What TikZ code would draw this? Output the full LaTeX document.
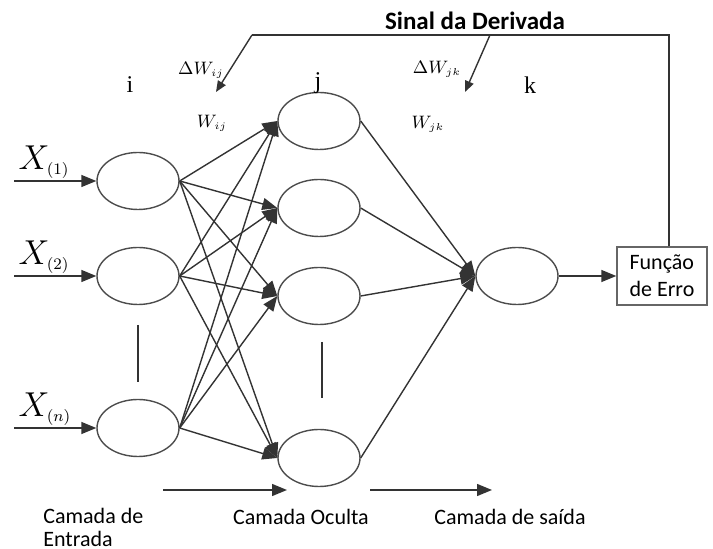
\documentclass[tikz,border=0pt]{standalone}
\usepackage{fontspec}
\setmainfont{Liberation Serif}
\newfontfamily\calibri{Carlito}
\usetikzlibrary{shapes.geometric,arrows.meta}

\begin{document}
\begin{tikzpicture}[x=0.5pt, y=-0.5pt, line width=0.7pt, draw=black!80,
        neuron/.style={ellipse, draw=black!70, minimum width=41pt, minimum height=28.5pt, inner sep=0pt},
        peso/.style={-{Triangle[length=7.5pt,width=6pt]}},
        sinal/.style={-{Triangle[length=5.5pt,width=4.5pt]}},
        rotulo/.style={font=\calibri\fontsize{11}{11.5}\selectfont},
        indice/.style={font=\fontsize{12}{14}\selectfont},
        caixa/.style={draw=black!60, font=\calibri\fontsize{11}{13.5}\selectfont, align=left,
                      minimum width=45pt, minimum height=29pt, inner sep=2pt}]
    \useasboundingbox (0,0) rectangle (713,549);

    % camadas
    \node[neuron] (i1) at (138,181) {};
    \node[neuron] (i2) at (138,276) {};
    \node[neuron] (i3) at (138,428) {};
    \node[neuron] (j1) at (319,121) {};
    \node[neuron] (j2) at (319,208) {};
    \node[neuron] (j3) at (319,296) {};
    \node[neuron] (j4) at (319,458) {};
    \node[neuron] (k1) at (517,276) {};
    \node[caixa] (erro) at (662,276) {Função\\de Erro};
    \draw (138,325) -- (138,382);
    \draw (322,342) -- (322,398);

    % entradas
    \foreach \n/\y/\s in {1/181/(1), 2/276/(2), 3/428/(n)} {
        \coordinate (x\n) at (14,\y);
        \node[anchor=south west, inner sep=0pt, font=\fontsize{16}{17}\selectfont] (lx\n) at (18,\y-2) {$X_{\scriptscriptstyle\s}$};
        \draw[peso] (x\n) -- (i\n);
    }

    % pesos
    \foreach \a in {1,2,3}
        \foreach \b in {1,...,4}
            \draw[peso] (i\a.east) -- (j\b.west);
    \foreach \b in {1,...,4}
        \draw[peso] (j\b.east) -- (k1.west);
    \draw[peso] (k1) -- (erro);

    % retorno do erro
    \coordinate (topo) at (669,35);
    \coordinate (canto) at (252,35);
    \coordinate (ramo) at (490,35);
    \coordinate (dij) at (216,92);
    \coordinate (djk) at (465,92);
    \draw (erro.north -| topo) -- (topo) -- (canto);
    \draw[sinal] (canto) -- (dij);
    \draw[sinal] (ramo) -- (djk);
    \node[font=\calibri\bfseries\fontsize{12.5}{15}\selectfont] (titulo) at (475,21) {Sinal da Derivada};

    \node[indice] (li) at (130,85) {i};
    \node[indice] (lj) at (318,83) {j};
    \node[indice] (lk) at (530,85) {k};
    \node[font=\fontsize{9}{10}\selectfont] (dwij) at (201,70) {$\Delta W_{\scriptscriptstyle ij}$};
    \node[font=\fontsize{9}{10}\selectfont] (dwjk) at (437,69) {$\Delta W_{\scriptscriptstyle jk}$};
    \node[font=\fontsize{9}{10}\selectfont] (wij) at (212,123) {$W_{\scriptscriptstyle ij}$};
    \node[font=\fontsize{9}{10}\selectfont] (wjk) at (428,124) {$W_{\scriptscriptstyle jk}$};

    % legenda
    \coordinate (s1) at (163,490);
    \coordinate (e1) at (287,490);
    \coordinate (s2) at (370,490);
    \coordinate (e2) at (492,490);
    \draw[peso] (s1) -- (e1);
    \draw[peso] (s2) -- (e2);
    \node[rotulo, align=left, anchor=west] (entrada) at (36,527) {Camada de\\Entrada};
    \node[rotulo] (oculta) at (301,517) {Camada Oculta};
    \node[rotulo] (saida) at (510,517) {Camada de saída};
\end{tikzpicture}
\end{document}
